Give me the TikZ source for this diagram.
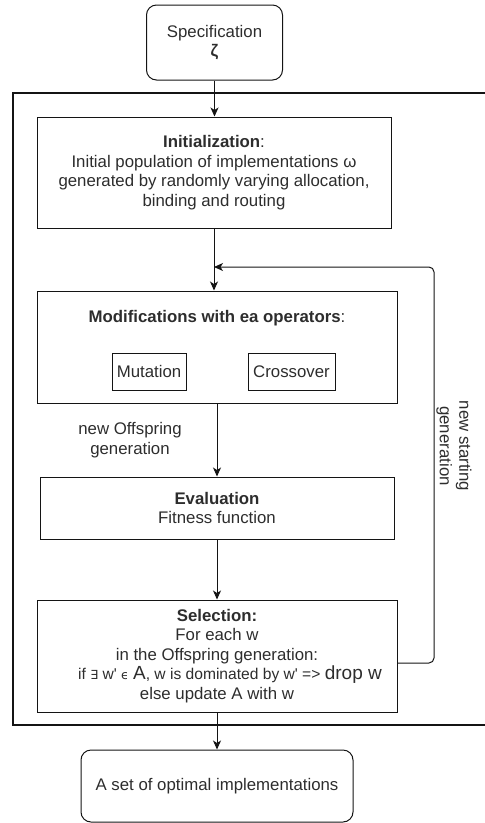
\documentclass[tikz,border=0pt]{standalone}
\usepackage{fontspec}
\setmainfont{Liberation Sans}
\newfontfamily\djv{DejaVu Sans}
\usetikzlibrary{arrows.meta}
\definecolor{txt}{RGB}{45,45,45}
\definecolor{ln}{RGB}{20,20,20}
\begin{document}
\begin{tikzpicture}[x=1pt,y=-1pt,
  font=\fontsize{16.8}{19.5}\selectfont,
  box/.style={draw=ln, line width=1pt, text=txt, align=center, inner sep=0pt},
  rbox/.style={box, rounded corners=10pt},
  lbl/.style={text=txt, align=center, inner sep=0pt},
  arr/.style={draw=ln, line width=1pt, -{Stealth[length=9pt,width=8pt,inset=2.5pt]}},
  frame/.style={draw=ln, line width=1.1pt}]
\useasboundingbox (0,0) rectangle (485,823);
\node[rbox, minimum width=136pt, minimum height=75pt] (spec) at (214.5,42.5)
  {Specification\\[-1pt]\textbf{ζ}};
\draw[frame] (486,93) -- (13,93) -- (13,725) -- (486,725);
\node[box, minimum width=354pt, minimum height=111pt] (init) at (214,172.5)
  {\textbf{Initialization}:\\Initial population of implementations ω\\generated by randomly varying allocation,\\binding and routing};
\node[box, minimum width=360pt, minimum height=112pt] (mod) at (217,347) {};
\node[lbl] (modt) at (217,318) {\textbf{Modifications with ea operators}:};
\node[box, minimum width=74pt, minimum height=37pt] (mut) at (149,371.5) {Mutation};
\node[box, minimum width=87pt, minimum height=37pt] (cro) at (291.5,371.5) {Crossover};
\node[lbl] (off) at (130,440) {new Offspring\\generation};
\node[box, minimum width=354pt, minimum height=62pt] (eval) at (217,508)
  {\textbf{Evaluation}\\Fitness function};
\node[box, minimum width=360pt, minimum height=112pt] (sel) at (217,656)
  {\textbf{Selection:}\\For each w\\in the Offspring generation:\\{\fontsize{15.6}{19.5}\selectfont \hspace*{26pt}if {\djv\fontsize{12.5}{12}\selectfont ∃} w\textquotesingle{} {\djv\fontsize{12.5}{12}\selectfont ϵ} {\fontsize{19}{19.5}\selectfont A}, w is dominated by w\textquotesingle{} => {\fontsize{19}{19.5}\selectfont drop w}}\\else update A with w};
\node[rbox, minimum width=272pt, minimum height=72pt] (fin) at (217,786)
  {A set of optimal implementations};
\node[lbl, rotate=-90] (nsg) at (454,446) {new starting\\generation};
\coordinate (fbs) at (397,663);
\coordinate (fbr) at (434,663);
\coordinate (fbt) at (434,267);
\coordinate (fbe) at (214,267);
\draw[arr] (spec.south) -- (spec.south |- init.north);
\draw[arr] (init.south) -- (init.south |- mod.north);
\draw[arr] (mod.south) -- (eval.north);
\draw[arr] (eval.south) -- (sel.north);
\draw[arr] (sel.south) -- (fin.north);
\draw[arr, rounded corners=5pt] (fbs) -- (fbr) -- (fbt) -- (fbe);
\end{tikzpicture}
\end{document}
